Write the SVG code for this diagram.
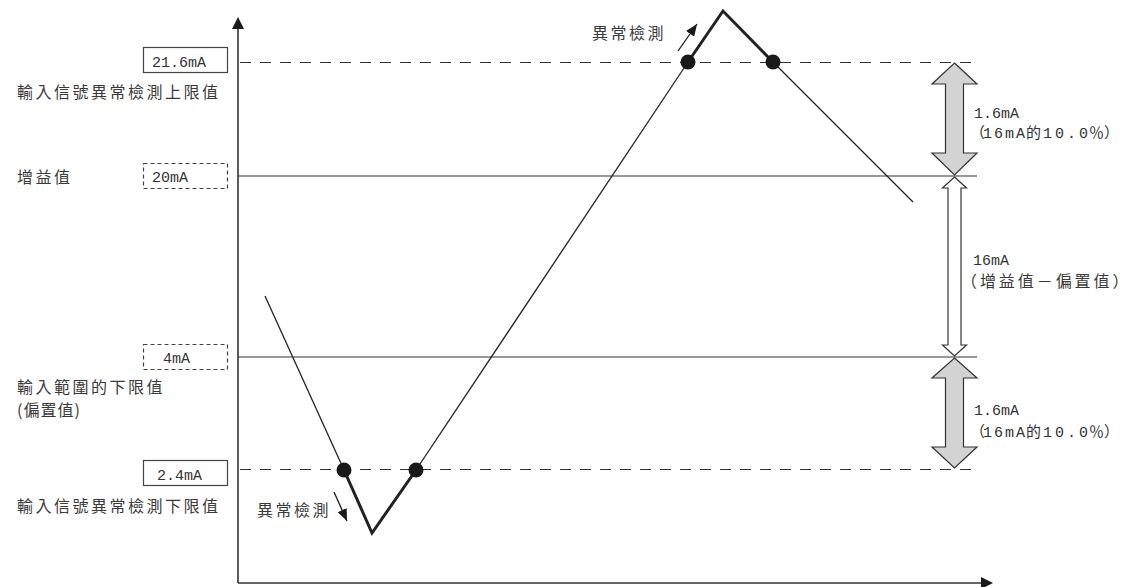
<svg xmlns="http://www.w3.org/2000/svg" width="1134" height="587" viewBox="0 0 1134 587">
<defs>
<style>
.cjk{font-family:"Noto Sans CJK TC","Noto Sans CJK SC",sans-serif;font-size:16px;letter-spacing:2.5px;fill:#3a3a3a;}
.val{font-family:"Liberation Mono","Noto Sans CJK TC",monospace;font-size:15px;fill:#333;}
.cj{font-family:"Noto Sans CJK TC","Noto Sans CJK SC",sans-serif;font-size:15px;}
.axis{stroke:#333;stroke-width:1.6;fill:none;}
.solid{stroke:#333;stroke-width:1.2;fill:none;}
.dash{stroke:#333;stroke-width:1.2;fill:none;stroke-dasharray:11 9;}
.box{fill:#fff;stroke:#444;stroke-width:1.2;}
.dbox{fill:#fff;stroke:#444;stroke-width:1.2;stroke-dasharray:4 3;}
.thin{stroke:#222;stroke-width:1.3;fill:none;}
.thick{stroke:#222;stroke-width:3;fill:none;stroke-linejoin:miter;}
.dot{fill:#1a1a1a;}
.garrow{fill:#d3d3d3;stroke:#333;stroke-width:1.2;}
.warrow{fill:#fff;stroke:#333;stroke-width:1.2;}
</style>
<marker id="ah" viewBox="0 0 12 10" refX="12" refY="5" markerWidth="12" markerHeight="10" markerUnits="userSpaceOnUse" orient="auto">
<path d="M0,0 L12,5 L0,10 z" fill="#1a1a1a"/>
</marker>
</defs>
<rect width="1134" height="587" fill="#fff"/>

<g id="axes">
<line class="axis" x1="238" y1="28" x2="238" y2="583"/>
<polygon points="238,17 244,29 232,29" fill="#1a1a1a"/>
<line class="axis" x1="238" y1="583" x2="982" y2="583"/>
<polygon points="993,583 981,577 981,589" fill="#1a1a1a"/>
</g>

<g id="levels">
<line class="dash" x1="240" y1="62.5" x2="977" y2="62.5"/>
<line class="solid" x1="238" y1="176" x2="977" y2="176"/>
<line class="solid" x1="238" y1="357" x2="977" y2="357"/>
<line class="dash" x1="240" y1="469.5" x2="977" y2="469.5"/>
</g>

<g id="node-upper-limit">
<rect class="box" x="143.5" y="47.5" width="84" height="25"/>
<text class="val" x="152" y="67">21.6mA</text>
<text class="cjk" x="17" y="98">輸入信號異常檢測上限值</text>
</g>
<g id="node-gain">
<rect class="dbox" x="143.5" y="163.5" width="84" height="25"/>
<text class="val" x="152" y="182">20mA</text>
<text class="cjk" x="17" y="183">增益值</text>
</g>
<g id="node-offset">
<rect class="dbox" x="143.5" y="344.5" width="84" height="25"/>
<text class="val" x="163" y="363">4mA</text>
<text class="cjk" x="17" y="393">輸入範圍的下限值</text>
<text class="cjk" x="17" y="416" style="letter-spacing:1px">(偏置值)</text>
</g>
<g id="node-lower-limit">
<rect class="box" x="143.5" y="460.5" width="84" height="25"/>
<text class="val" x="157" y="480">2.4mA</text>
<text class="cjk" x="17" y="512">輸入信號異常檢測下限值</text>
</g>

<g id="signal">
<polyline class="thin" points="265,296 344,470"/>
<polyline class="thick" points="344,470 372,533 416,470"/>
<polyline class="thin" points="416,470 688,62"/>
<polyline class="thick" points="688,62 723,11 773,62"/>
<polyline class="thin" points="773,62 913,202"/>
<circle class="dot" cx="344" cy="470" r="7.5"/>
<circle class="dot" cx="416" cy="470" r="7.5"/>
<circle class="dot" cx="688" cy="62" r="7.5"/>
<circle class="dot" cx="773" cy="62" r="7.5"/>
</g>

<g id="detect-top">
<line x1="678" y1="51" x2="697" y2="24" stroke="#1a1a1a" stroke-width="1.3" marker-end="url(#ah)"/>
<text class="cjk" x="592" y="39">異常檢測</text>
</g>
<g id="detect-bottom">
<line x1="334" y1="492" x2="347" y2="521" stroke="#1a1a1a" stroke-width="1.3" marker-end="url(#ah)"/>
<text class="cjk" x="257" y="516">異常檢測</text>
</g>

<g id="connectors">
<polygon class="garrow" points="954.5,63 977,84 963.5,84 963.5,153 977,153 954.5,175 932,153 945.5,153 945.5,84 932,84"/>
<polygon class="warrow" points="954.5,177 966.5,188 961,188 961,345 966.5,345 954.5,356 942.5,345 948,345 948,188 942.5,188"/>
<polygon class="garrow" points="954.5,358 977,378 963.5,378 963.5,447 977,447 954.5,468 932,447 945.5,447 945.5,378 932,378"/>
</g>

<g id="label-upper">
<text class="val" x="974" y="118">1.6mA</text>
<text class="val" y="138"><tspan class="cj" x="970">（</tspan><tspan x="983" style="letter-spacing:2px">16mA</tspan><tspan class="cj" x="1026">的</tspan><tspan x="1043" style="letter-spacing:3px">10.0</tspan><tspan class="cj" x="1089">％</tspan><tspan class="cj" x="1104">）</tspan></text>
</g>
<g id="label-span">
<text class="val" x="973" y="265">16mA</text>
<text class="cjk" x="961" y="287" textLength="170" lengthAdjust="spacing">（增益值－偏置值）</text>
</g>
<g id="label-lower">
<text class="val" x="974" y="415">1.6mA</text>
<text class="val" y="437"><tspan class="cj" x="970">（</tspan><tspan x="983" style="letter-spacing:2px">16mA</tspan><tspan class="cj" x="1026">的</tspan><tspan x="1043" style="letter-spacing:3px">10.0</tspan><tspan class="cj" x="1089">％</tspan><tspan class="cj" x="1104">）</tspan></text>
</g>
</svg>
